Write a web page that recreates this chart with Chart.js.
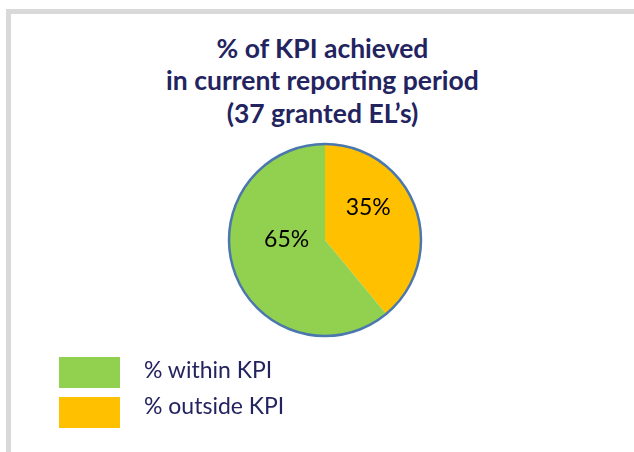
<!DOCTYPE html>
<html>
<head>
<meta charset="utf-8">
<script src="https://cdn.jsdelivr.net/npm/chart.js@4/dist/chart.umd.min.js"></script>
<style>
  html, body { margin:0; padding:0; background:#fff; }
  body { width:634px; height:452px; position:relative; overflow:hidden; font-family: Lato, "Open Sans", sans-serif; }
  #frame { position:absolute; left:6px; top:9px; width:700px; height:500px; border-left:5px solid #d9d9d9; border-top:5px solid #d9d9d9; box-sizing:border-box; }
  #title { position:absolute; left:0; width:645px; top:31.5px; text-align:center; color:#23245f; font-weight:bold; font-size:26.5px; line-height:32.5px; }
  #wrap { position:absolute; left:0; top:0; width:634px; height:452px; }
  #legend { position:absolute; left:59px; top:357px; }
  .li { position:relative; height:40px; }
  .sw { position:absolute; left:0; top:0; width:61px; height:31px; }
  .tx { position:absolute; left:85px; top:0; line-height:31px; font-size:23px; color:#23245f; white-space:nowrap; }
</style>
</head>
<body>
<div id="frame"></div>
<div id="title">% of KPI achieved<br>in current reporting period<br>(37 granted EL’s)</div>
<div id="wrap"><canvas id="c" width="634" height="452"></canvas></div>
<div id="legend"></div>
<script>
const categories = ["% outside KPI", "% within KPI"];
const sliceValues = [39, 61];
const printedLabels = ["35%", "65%"];
const colors = ["#ffc000", "#92d050"];
const legendOrder = [1, 0];

const outlinePlugin = {
  id: 'outline',
  afterDatasetsDraw(chart) {
    const arc = chart.getDatasetMeta(0).data[0];
    const ctx = chart.ctx;
    ctx.save();
    ctx.beginPath();
    ctx.arc(arc.x, arc.y, arc.outerRadius, 0, Math.PI * 2);
    ctx.lineWidth = 2.5;
    ctx.strokeStyle = '#4a78ae';
    ctx.stroke();
    const offs = [[0.45, -0.34], [-0.40, 0.0]];
    ctx.fillStyle = '#000';
    ctx.font = '23px Lato, sans-serif';
    ctx.textAlign = 'center';
    ctx.textBaseline = 'middle';
    chart.getDatasetMeta(0).data.forEach((a, i) => {
      ctx.fillText(printedLabels[i], a.x + offs[i][0] * a.outerRadius, a.y + offs[i][1] * a.outerRadius);
    });
    ctx.restore();
  }
};

new Chart(document.getElementById('c'), {
  type: 'pie',
  data: {
    labels: categories,
    datasets: [{ data: sliceValues, backgroundColor: colors, borderWidth: 0 }]
  },
  options: {
    responsive: false,
    animation: false,
    radius: 96,
    layout: { padding: { left: 116, right: 100, top: 128, bottom: 100 } },
    plugins: { legend: { display: false }, tooltip: { enabled: false }, title: { display: false } }
  },
  plugins: [outlinePlugin]
});

const textShift = [-3, -7];
const lg = document.getElementById('legend');
legendOrder.forEach((i, r) => {
  const d = document.createElement('div'); d.className = 'li';
  const s = document.createElement('div'); s.className = 'sw'; s.style.background = colors[i];
  const t = document.createElement('div'); t.className = 'tx'; t.textContent = categories[i];
  t.style.top = textShift[r] + 'px';
  d.appendChild(s); d.appendChild(t); lg.appendChild(d);
});
</script>
</body>
</html>
